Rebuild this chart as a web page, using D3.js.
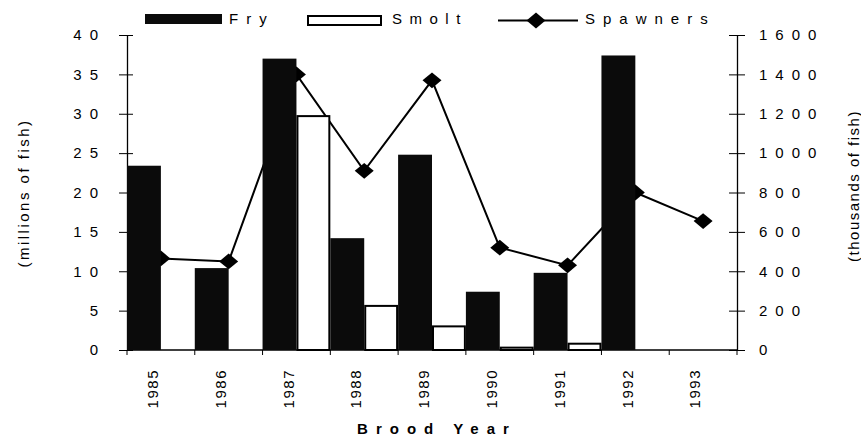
<!DOCTYPE html>
<html>
<head>
<meta charset="utf-8">
<script src="https://cdnjs.cloudflare.com/ajax/libs/d3/7.8.5/d3.min.js"></script>
<style>
  body { margin: 0; background: #fff; }
  text { font-family: "Liberation Sans", Arial, sans-serif; fill: #000; }
</style>
</head>
<body>
<div id="chart"></div>
<script>
// values
var years = ["1985", "1986", "1987", "1988", "1989", "1990", "1991", "1992", "1993"];
var fry = [23.4, 10.4, 37.0, 14.2, 24.8, 7.4, 9.8, 37.4, null]; // millions of fish
var smolt = [0, 0, 29.7, 5.6, 3.0, 0.3, 0.8, 0, null]; // millions of fish
var spawners = [465, 450, 1400, 910, 1370, 520, 430, 800, 655]; // thousands of fish
var leftTicks = [0, 5, 10, 15, 20, 25, 30, 35, 40];
var rightTicks = [0, 200, 400, 600, 800, 1000, 1200, 1400, 1600];

// set the dimensions and margins of the graph
var margin = { top: 35, right: 124, bottom: 91, left: 127 },
  width = 861 - margin.left - margin.right,
  height = 441 - margin.top - margin.bottom;

var root = d3
  .select("#chart")
  .append("svg")
  .attr("width", width + margin.left + margin.right)
  .attr("height", height + margin.top + margin.bottom);

var svg = root
  .append("g")
  .attr("transform", "translate(" + margin.left + "," + margin.top + ")");

// scales
var x = d3.scaleBand().domain(years).range([0, width]).padding(0);
var bw = x.bandwidth();
var yLeft = d3.scaleLinear().domain([0, 40]).range([height, 0]);
var yRight = d3.scaleLinear().domain([0, 1600]).range([height, 0]);

// left axis, ticks cross the line
var gl = svg
  .append("g")
  .style("font-size", "15px")
  .call(d3.axisLeft(yLeft).tickValues(leftTicks).tickFormat(d3.format("d")).tickSizeOuter(0));
gl.select(".domain").attr("stroke-width", 1.3);
gl.selectAll(".tick line").attr("x1", 6).attr("x2", -8);
gl.selectAll(".tick text")
  .attr("x", -21)
  .style("letter-spacing", "8px")
  .attr("font-family", "Liberation Sans, Arial, sans-serif");

// right axis
var gr = svg
  .append("g")
  .attr("transform", "translate(" + width + ",0)")
  .style("font-size", "15px")
  .call(d3.axisRight(yRight).tickValues(rightTicks).tickFormat(d3.format("d")).tickSizeOuter(0));
gr.select(".domain").attr("stroke-width", 1.3);
gr.selectAll(".tick line").attr("x1", -8).attr("x2", 8);
gr.selectAll(".tick text")
  .attr("x", 22)
  .style("letter-spacing", "8px")
  .attr("font-family", "Liberation Sans, Arial, sans-serif");

// x axis baseline and category ticks
svg
  .append("line")
  .attr("x1", 0)
  .attr("x2", width)
  .attr("y1", height)
  .attr("y2", height)
  .attr("stroke", "#000")
  .attr("stroke-width", 1.3);

svg
  .selectAll(".xtick")
  .data(years.concat(["end"]))
  .enter()
  .append("line")
  .attr("class", "xtick")
  .attr("x1", function (d) { return d === "end" ? width : x(d); })
  .attr("x2", function (d) { return d === "end" ? width : x(d); })
  .attr("y1", height)
  .attr("y2", height + 5)
  .attr("stroke", "#000");

svg
  .selectAll(".xlabel")
  .data(years)
  .enter()
  .append("text")
  .attr("class", "xlabel")
  .attr("transform", function (d) {
    return "translate(" + (x(d) + bw / 2 - 8) + "," + (height + 19) + ") rotate(-90)";
  })
  .attr("text-anchor", "end")
  .attr("dy", "0.35em")
  .style("font-size", "15px")
  .style("letter-spacing", "1.5px")
  .text(function (d) { return d; });

// spawners line and markers (drawn under the bars)
var spawnData = years.map(function (d, i) { return { year: d, v: spawners[i] }; });
svg
  .append("path")
  .datum(spawnData)
  .attr("fill", "none")
  .attr("stroke", "#000")
  .attr("stroke-width", 2)
  .attr("d", d3.line()
    .x(function (d) { return x(d.year) + bw / 2; })
    .y(function (d) { return yRight(d.v); }));

var diamond = d3.symbol().type(d3.symbolSquare).size(125);
svg
  .selectAll(".spawn")
  .data(spawnData)
  .enter()
  .append("path")
  .attr("class", "spawn")
  .attr("d", diamond)
  .attr("fill", "#000")
  .attr("transform", function (d) {
    return "translate(" + (x(d.year) + bw / 2) + "," + yRight(d.v) + ") scale(1.2,1) rotate(45)";
  });

// fry bars
var fryData = years.map(function (d, i) { return { year: d, v: fry[i] }; })
  .filter(function (d) { return d.v !== null; });
svg
  .selectAll(".fry")
  .data(fryData)
  .enter()
  .append("rect")
  .attr("class", "fry")
  .attr("x", function (d) { return x(d.year); })
  .attr("y", function (d) { return yLeft(d.v); })
  .attr("width", bw / 2)
  .attr("height", function (d) { return height - yLeft(d.v); })
  .attr("fill", "#0b0b0b");

// smolt bars
var smoltData = years.map(function (d, i) { return { year: d, v: smolt[i] }; })
  .filter(function (d) { return d.v !== null; });
svg
  .selectAll(".smolt")
  .data(smoltData)
  .enter()
  .append("rect")
  .attr("class", "smolt")
  .attr("x", function (d) { return x(d.year) + bw / 2 + 1; })
  .attr("y", function (d) { return yLeft(d.v); })
  .attr("width", bw / 2 - 2)
  .attr("height", function (d) { return height - yLeft(d.v); })
  .attr("fill", "#fff")
  .attr("stroke", "#000")
  .attr("stroke-width", 2);

// axis titles
root
  .append("text")
  .attr("transform", "translate(24,193) rotate(-90)")
  .attr("text-anchor", "middle")
  .attr("dy", "0.35em")
  .style("font-size", "15px")
  .style("letter-spacing", "2.5px")
  .text("(millions of fish)");

root
  .append("text")
  .attr("transform", "translate(854,186) rotate(-90)")
  .attr("text-anchor", "middle")
  .attr("dy", "0.35em")
  .style("font-size", "15px")
  .style("letter-spacing", "1.5px")
  .text("(thousands of fish)");

root
  .append("text")
  .attr("x", 437)
  .attr("y", 434)
  .attr("text-anchor", "middle")
  .style("font-size", "15px")
  .style("font-weight", "bold")
  .style("letter-spacing", "8px")
  .text("Brood Year");

// legend
var legend = root.append("g");
legend
  .append("rect")
  .attr("x", 145)
  .attr("y", 14)
  .attr("width", 77)
  .attr("height", 10)
  .attr("fill", "#0b0b0b");
legend
  .append("text")
  .attr("x", 229)
  .attr("y", 24)
  .style("font-size", "15px")
  .style("letter-spacing", "8px")
  .text("Fry");

legend
  .append("rect")
  .attr("x", 308)
  .attr("y", 16)
  .attr("width", 73)
  .attr("height", 9)
  .attr("fill", "#fff")
  .attr("stroke", "#000")
  .attr("stroke-width", 2);
legend
  .append("text")
  .attr("x", 392)
  .attr("y", 24)
  .style("font-size", "15px")
  .style("letter-spacing", "7.5px")
  .text("Smolt");

legend
  .append("line")
  .attr("x1", 498)
  .attr("x2", 578)
  .attr("y1", 20.5)
  .attr("y2", 20.5)
  .attr("stroke", "#000")
  .attr("stroke-width", 2);
legend
  .append("path")
  .attr("d", diamond)
  .attr("fill", "#000")
  .attr("transform", "translate(536,20.5) scale(1.2,1) rotate(45)");
legend
  .append("text")
  .attr("x", 585)
  .attr("y", 24)
  .style("font-size", "15px")
  .style("letter-spacing", "8px")
  .text("Spawners");
</script>
</body>
</html>
